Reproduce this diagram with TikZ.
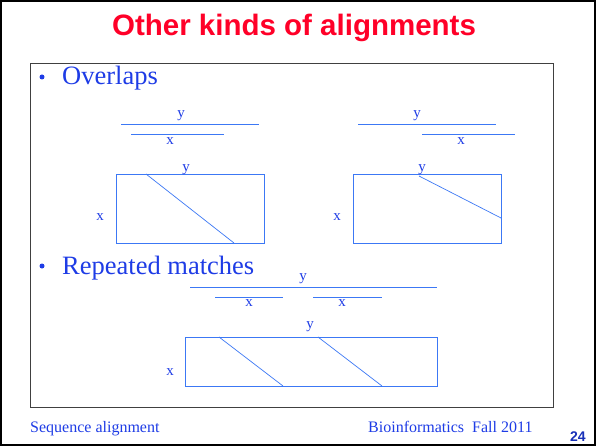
\documentclass[tikz,border=0pt]{standalone}
\usepackage{fontspec}
\setmainfont{Liberation Serif}
\newfontfamily\arialfont{Liberation Sans}
\definecolor{titlered}{RGB}{255,0,40}
\definecolor{txtblue}{RGB}{30,60,230}
\definecolor{lineblue}{RGB}{60,120,245}
\begin{document}
\begin{tikzpicture}[x=1pt,y=-1pt,
  lbl/.style={text=txtblue,font=\fontsize{15}{15}\selectfont,inner sep=0pt},
  seq/.style={draw=lineblue,line width=1pt},
  mat/.style={draw=lineblue,line width=0.9pt},
  diag/.style={draw=lineblue,line width=0.7pt},
  bullet/.style={text=txtblue,font=\fontsize{26.5}{26.5}\selectfont,anchor=base west,inner sep=0pt},
  dot/.style={circle,fill=txtblue,inner sep=0pt,minimum size=5pt},
  foot/.style={text=txtblue,font=\fontsize{16}{16}\selectfont,anchor=base west,inner sep=0pt}]
\useasboundingbox (0,0) rectangle (596,446);
\fill[white] (0,0) rectangle (596,446);
\draw[black,line width=1.5pt] (1,1) rectangle (595,445);
\node[text=titlered,font=\arialfont\bfseries\fontsize{29.5}{29.5}\selectfont,inner sep=0pt] (title) at (294,28) {Other kinds of alignments};
\draw[black!75,line width=0.8pt] (30,63) rectangle (553,407);
\node[dot] (d1) at (42,77) {};
\node[bullet] (b1) at (62,85) {Overlaps};
\node[dot] (d2) at (42,266) {};
\node[bullet] (b2) at (62,274) {Repeated matches};
% overlap 1
\draw[seq] (121,125) -- (259,125);
\node[lbl] (y1) at (181,116) {y};
\draw[seq] (131,134.5) -- (224,134.5);
\node[lbl] (x1) at (170,141) {x};
\draw[mat] (116,174) rectangle (264,243);
\draw[diag] (146,174) -- (234,243);
\node[lbl] (y1m) at (186,170) {y};
\node[lbl] (x1m) at (100,217) {x};
% overlap 2
\draw[seq] (358,125) -- (496,125);
\node[lbl] (y2) at (417,116) {y};
\draw[seq] (422,134.5) -- (515,134.5);
\node[lbl] (x2) at (461,141) {x};
\draw[mat] (353,174) rectangle (501,243);
\draw[diag] (419,176) -- (501,218);
\node[lbl] (y2m) at (422,170) {y};
\node[lbl] (x2m) at (337,217) {x};
% repeated
\draw[seq] (190,287) -- (437,287);
\node[lbl] (y3) at (303,279) {y};
\draw[seq] (215,297) -- (283,297);
\node[lbl] (x3a) at (249,303) {x};
\draw[seq] (313,297) -- (382,297);
\node[lbl] (x3b) at (342,303) {x};
\draw[mat] (185,337) rectangle (437,386);
\draw[diag] (219,337) -- (283,386);
\draw[diag] (318,337) -- (382,386);
\node[lbl] (y3m) at (310,327) {y};
\node[lbl] (x3m) at (170,372) {x};
% footer
\node[foot] (f1) at (30,432) {Sequence alignment};
\node[foot] (f2) at (368,432) {Bioinformatics\ \ Fall 2011};
\node[text=txtblue!80!black,font=\arialfont\bfseries\fontsize{14}{14}\selectfont,anchor=base west,inner sep=0pt] (pg) at (570,441) {24};
\end{tikzpicture}
\end{document}
